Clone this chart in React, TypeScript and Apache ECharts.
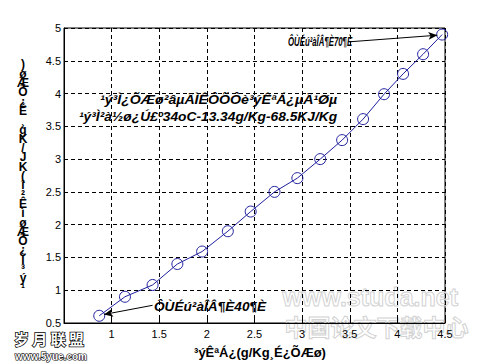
import React, { useEffect, useRef } from "react";
import * as echarts from "echarts";

// Data
const xValues = [0.87, 1.14, 1.43, 1.69, 1.95, 2.22, 2.46, 2.71, 2.95, 3.19, 3.42, 3.64, 3.86, 4.06, 4.27, 4.47];
const yValues = [0.61, 0.9, 1.08, 1.4, 1.59, 1.9, 2.2, 2.5, 2.71, 3.0, 3.29, 3.61, 3.99, 4.3, 4.6, 4.9];

const xMin = 0.5;
const xMax = 4.5;
const yMin = 0.5;
const yMax = 5;
const tickStep = 0.5;

const xLabel = "³ýÊªÁ¿(g/Kg¸É¿ÕÆø)";
const yLabel = "¹ý³Ì¿ÕÆøìÊ²î(KJ/Kg¸É¿ÕÆø)";
const titleLine1 = "¹ý³Ì¿ÕÆø²âµÄÌÊÔÕÔè³ýÊªÁ¿µÄ¹Øµ";
const titleLine2 = "¹ý³Ì²à½ø¿Ú£º34oC-13.34g/Kg-68.5KJ/Kg";
const noteHigh = "ÔÙÉú²àÎÂ¶È70¶È";
const noteLow = "ÔÙÉú²àÎÂ¶È40¶È";
const arrowHigh = [[3.5, 4.79], [4.42, 4.89]];
const arrowLow = [[1.43, 0.77], [0.92, 0.63]];

const FONT = "'Liberation Sans', Arial, sans-serif";

export default function App() {
  const ref = useRef<HTMLDivElement>(null);

  useEffect(() => {
    document.body.style.margin = "0";
    if (!ref.current) return;
    const chart = echarts.init(ref.current, undefined, { renderer: "svg" });
    const points = xValues.map((x, i) => [x, yValues[i]]);
    const blue = "#1f1f9e";

    const option: any = {
      animation: false,
      backgroundColor: "#ffffff",
      grid: {
        left: 64,
        right: 47,
        top: 28,
        bottom: 41,
        show: true,
        borderColor: "#000",
        borderWidth: 1,
        backgroundColor: "transparent",
      },
      xAxis: {
        type: "value",
        min: xMin,
        max: xMax,
        interval: tickStep,
        axisLine: { show: true, lineStyle: { color: "#000", width: 1 } },
        axisTick: { show: true, inside: true, length: 4, lineStyle: { color: "#000" } },
        axisLabel: {
          color: "#000",
          fontFamily: FONT,
          fontSize: 11,
          margin: 5,
          formatter: (v: number) => (Math.abs(v - xMin) < 1e-9 ? "" : String(v)),
        },
        splitLine: { show: true, lineStyle: { color: "#000", type: [4, 3], width: 1 } },
      },
      yAxis: {
        type: "value",
        min: yMin,
        max: yMax,
        interval: tickStep,
        axisLine: { show: true, lineStyle: { color: "#000", width: 1 } },
        axisTick: { show: true, inside: true, length: 4, lineStyle: { color: "#000" } },
        axisLabel: {
          color: "#000",
          fontFamily: FONT,
          fontSize: 11,
          margin: 3,
          formatter: (v: number) => String(v),
        },
        splitLine: { show: true, lineStyle: { color: "#000", type: [4, 3], width: 1 } },
      },
      series: [
        {
          type: "line",
          data: points,
          symbol: "circle",
          symbolSize: 11,
          itemStyle: { color: "rgba(0,0,0,0)", borderColor: blue, borderWidth: 1 },
          lineStyle: { color: blue, width: 1 },
          emphasis: { disabled: true },
          z: 3,
          markLine: {
            silent: true,
            symbol: ["none", "arrow"],
            symbolSize: [6, 9],
            label: { show: false },
            lineStyle: { color: "#000", width: 1, type: "solid" },
            data: [
              [{ coord: arrowHigh[0] }, { coord: arrowHigh[1] }],
              [{ coord: arrowLow[0] }, { coord: arrowLow[1] }],
            ],
          },
        },
      ],
      graphic: [
        // watermark (gray outlined)
        {
          type: "text",
          left: 282,
          top: 284,
          z: 0,
          silent: true,
          style: {
            text: "www.studa.net",
            font: `bold 25px ${FONT}`,
            fill: "rgba(255,255,255,0)",
            stroke: "#d2d2d2",
            lineWidth: 1,
          },
        },
        {
          type: "text",
          left: 284,
          top: 314,
          z: 0,
          silent: true,
          style: {
            text: "中国论文下载中心",
            font: `bold 23px 'Noto Sans CJK SC', sans-serif`,
            fill: "rgba(255,255,255,0)",
            stroke: "#d2d2d2",
            lineWidth: 1,
          },
        },
        // middle annotation text
        {
          type: "text",
          x: 100,
          y: 100,
          scaleX: 1.09,
          style: {
            text: titleLine1,
            font: `italic bold 13px ${FONT}`,
            fill: "#000",
            textVerticalAlign: "middle",
          },
        },
        {
          type: "text",
          x: 79,
          y: 117,
          scaleX: 1.06,
          style: {
            text: titleLine2,
            font: `italic bold 13px ${FONT}`,
            fill: "#000",
            textVerticalAlign: "middle",
          },
        },
        {
          type: "text",
          x: 288,
          y: 41,
          scaleX: 0.6,
          style: {
            text: noteHigh,
            font: `italic bold 13px ${FONT}`,
            fill: "#000",
            textVerticalAlign: "middle",
          },
        },
        {
          type: "text",
          x: 154,
          y: 307,
          scaleX: 1.05,
          style: {
            text: noteLow,
            font: `italic bold 13px ${FONT}`,
            fill: "#000",
            textVerticalAlign: "middle",
          },
        },
        // axis titles
        {
          type: "text",
          x: 260,
          y: 352,
          style: {
            text: xLabel,
            font: `bold 13px ${FONT}`,
            fill: "#000",
            textAlign: "center",
            textVerticalAlign: "middle",
          },
        },
        {
          type: "text",
          x: 23,
          y: 176,
          style: {
            text: yLabel.split("").reverse().join("\n"),
            font: `bold 12px ${FONT}`,
            lineHeight: 9.3,
            fill: "#000",
            textAlign: "center",
            textVerticalAlign: "middle",
          },
        },
        // bottom-left watermark
        {
          type: "text",
          x: 49,
          y: 338,
          style: {
            text: "岁 月 联 盟",
            font: `bold 15px 'Noto Sans CJK SC', sans-serif`,
            fill: "#fff",
            stroke: "#000",
            lineWidth: 1.5,
            textAlign: "center",
            textVerticalAlign: "middle",
          },
        },
        {
          type: "text",
          x: 51,
          y: 356,
          style: {
            text: "www.5yue.com",
            font: `bold 10px ${FONT}`,
            fill: "#fff",
            stroke: "#000",
            lineWidth: 1.2,
            textAlign: "center",
            textVerticalAlign: "middle",
          },
        },
      ],
    };

    chart.setOption(option);
    return () => chart.dispose();
  }, []);

  return <div ref={ref} style={{ width: 492, height: 364 }} />;
}
